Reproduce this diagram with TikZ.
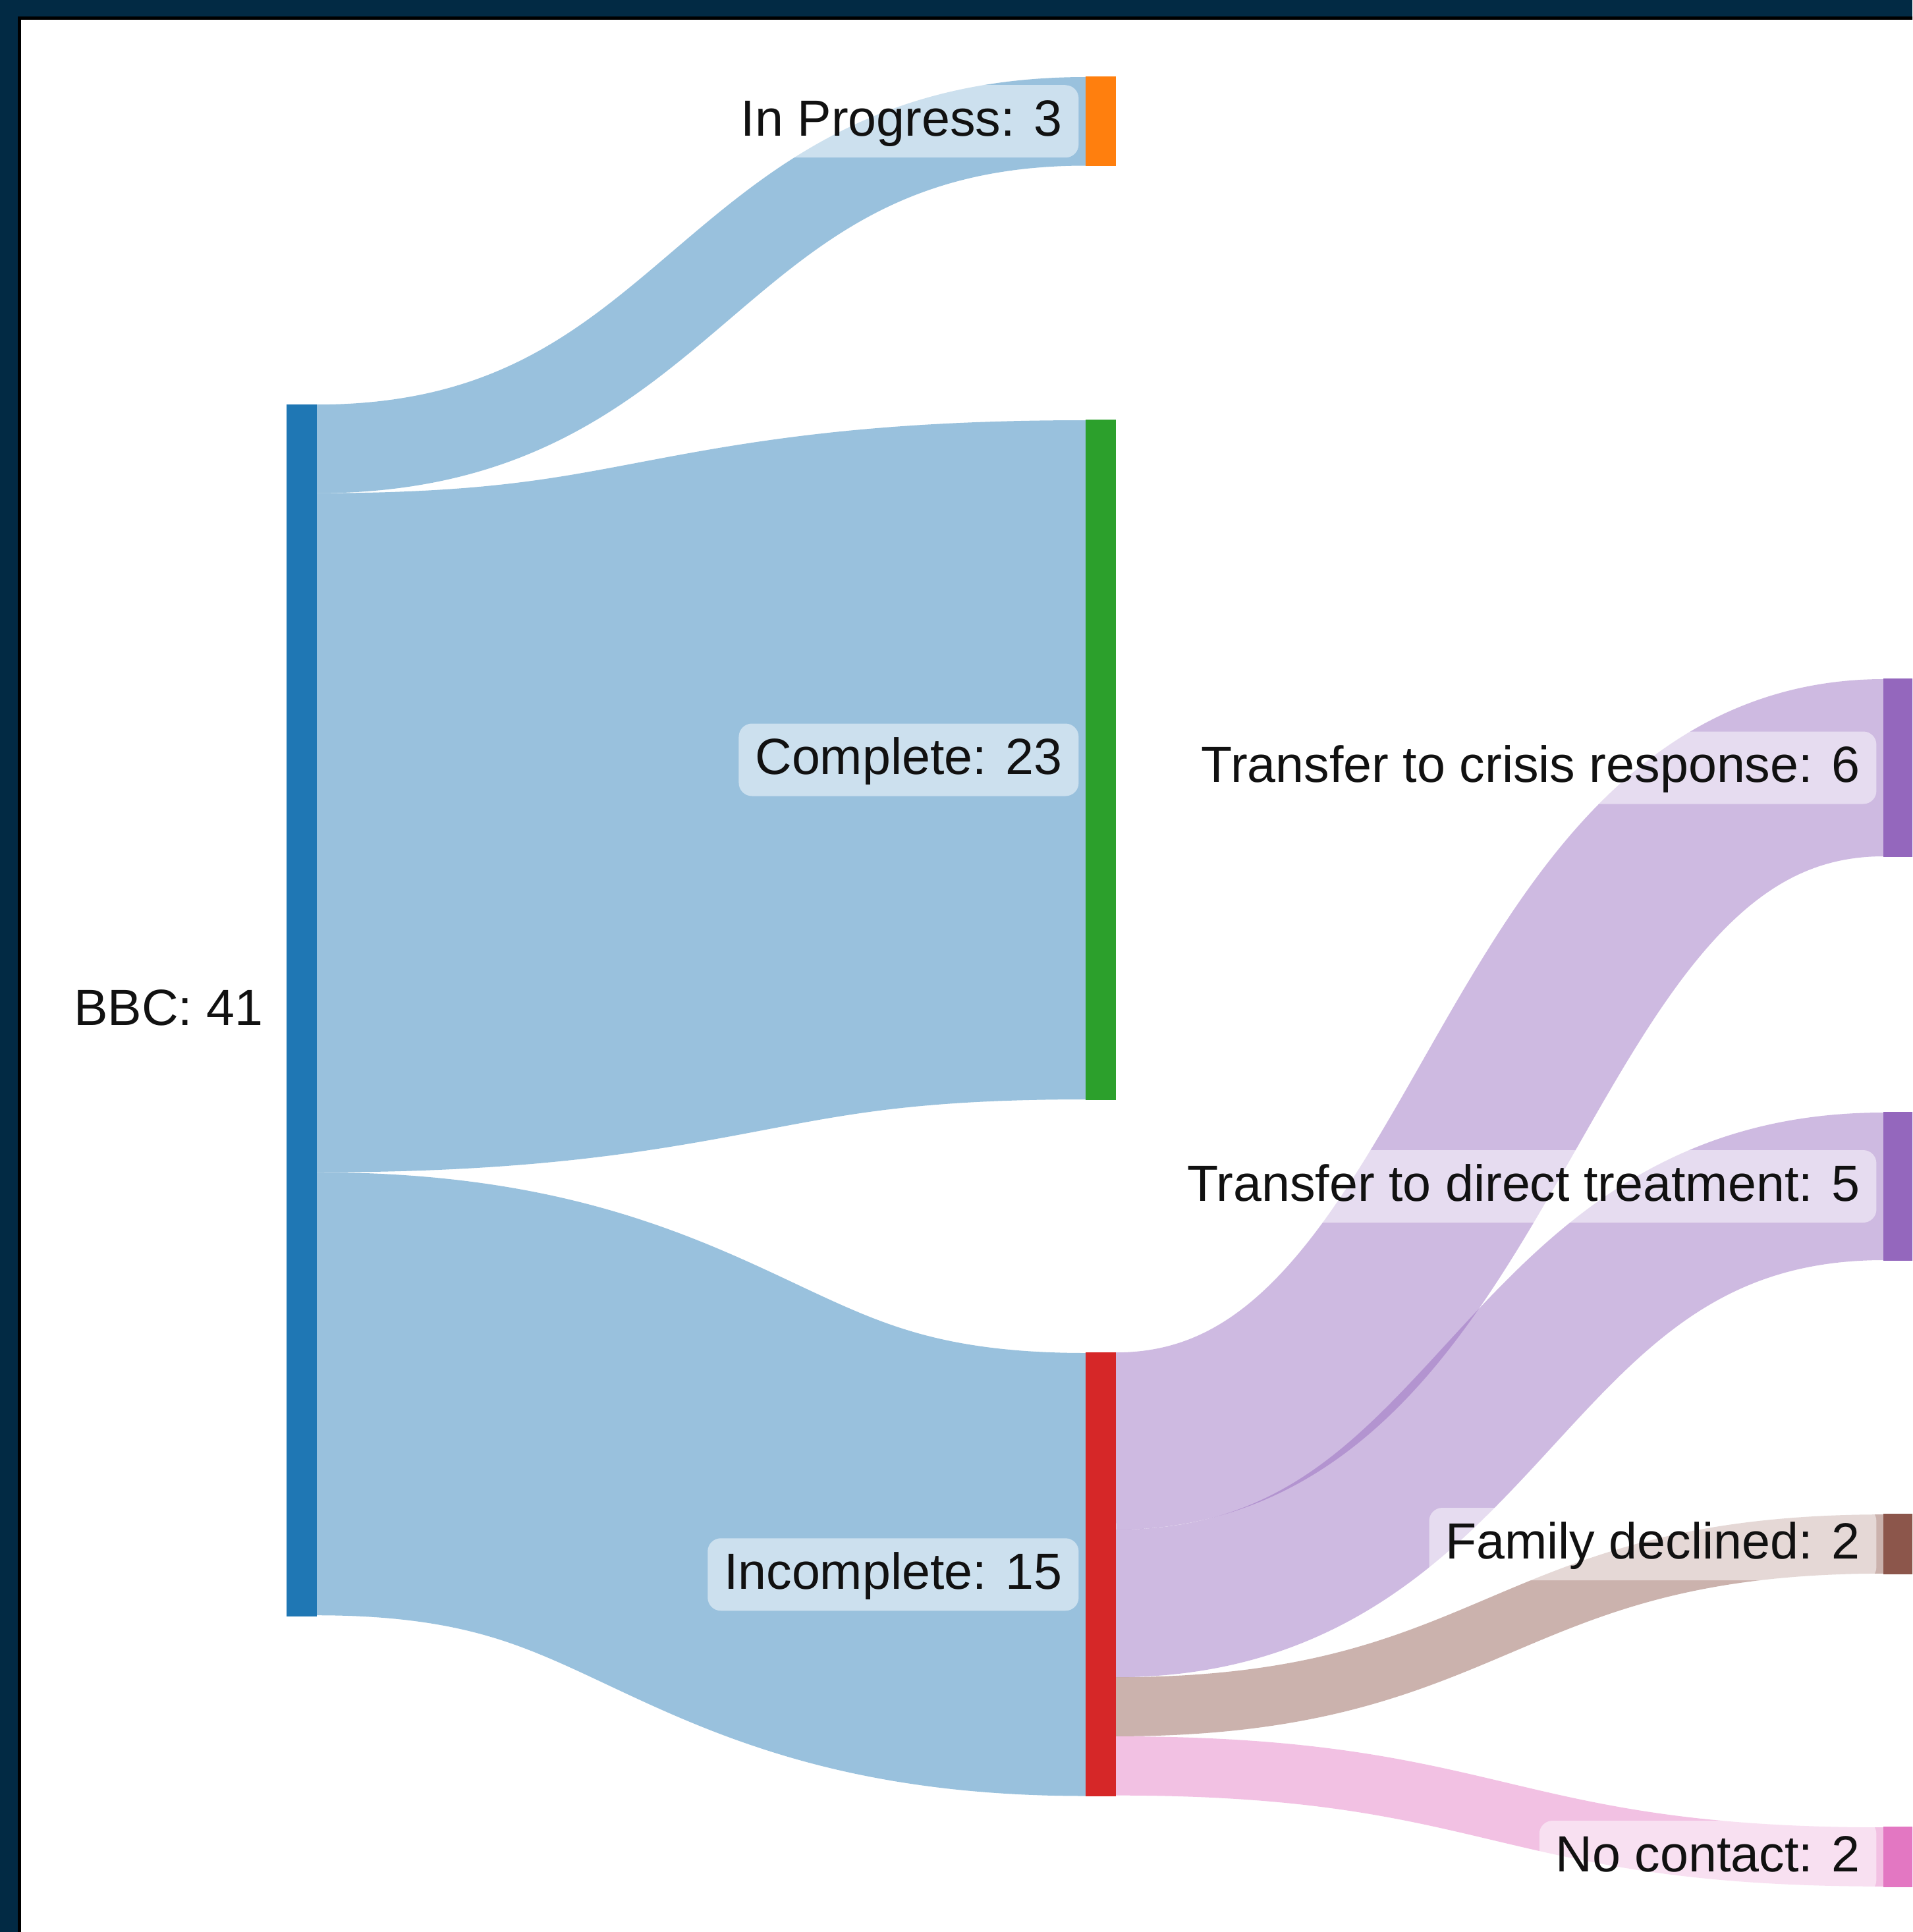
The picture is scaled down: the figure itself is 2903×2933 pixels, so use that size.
\documentclass[tikz,border=0pt]{standalone}
\usepackage{fontspec}
\setmainfont{Liberation Sans}
\usetikzlibrary{calc}
\definecolor{navy}{HTML}{022A44}
\definecolor{cblue}{HTML}{1F77B4}
\definecolor{corange}{HTML}{FF7F0E}
\definecolor{cgreen}{HTML}{2CA02C}
\definecolor{cred}{HTML}{D62728}
\definecolor{cpurple}{HTML}{9467BD}
\definecolor{cbrown}{HTML}{8C564B}
\definecolor{cpink}{HTML}{E377C2}
\definecolor{txt}{HTML}{111111}
\tikzset{
  bar/.style={draw=none, inner sep=0pt, minimum width=11pt},
  link/.style={draw=#1, draw opacity=0.45, line cap=butt},
  lab/.style={anchor=east, fill=white, fill opacity=0.5, text opacity=1, text=txt,
    rounded corners=5pt, inner xsep=6.2pt, inner ysep=0pt,
    text height=11pt, text depth=0pt, minimum height=27.5pt,
    font=\fontsize{19.3pt}{22pt}\selectfont}
}
\begin{document}
\begin{tikzpicture}[x=0.25pt, y=-0.25pt]
\useasboundingbox (0,0) rectangle (2903,2933);
\clip (0,0) rectangle (2903,2933);
% frame
\fill[white] (0,0) rectangle (2903,2933);
\fill[navy] (0,0) rectangle (2903,26);
\fill[navy] (0,0) rectangle (27,2933);
\draw[black, line width=1.1pt] (29.5,2940) -- (29.5,27.5) -- (2910,27.5);

% nodes (bars)
\node[bar, minimum height=1838*0.25pt]  (bbc)    at (458,1534) {};
\node[bar, minimum height=134.5*0.25pt] (prog)   at (1671,184.25) {};
\node[bar, minimum height=1031*0.25pt]  (comp)   at (1671,1153.5) {};
\node[bar, minimum height=672.5*0.25pt] (inc)    at (1671,2390.25) {};
\node[bar, minimum height=269*0.25pt]   (crisis) at (2882,1165.5) {};
\node[bar, minimum height=224*0.25pt]   (direct) at (2882,1801) {};
\node[bar, minimum height=89.7*0.25pt]  (fam)    at (2882,2344) {};
\node[bar, minimum height=89.7*0.25pt]  (noc)    at (2882,2819) {};

% link centre points at the sources
\coordinate (sprog)   at ($(bbc.north east)+(0,67.25)$);
\coordinate (scomp)   at ($(bbc.north east)+(0,650)$);
\coordinate (sinc)    at ($(bbc.north east)+(0,1501.75)$);
\coordinate (scrisis) at ($(inc.north east)+(0,134.5)$);
\coordinate (sdirect) at ($(inc.north east)+(0,381)$);
\coordinate (sfam)    at ($(inc.north east)+(0,537.85)$);
\coordinate (snoc)    at ($(inc.north east)+(0,627.6)$);

% links: bands of constant thickness
\draw[link=cblue, line width=134.5*0.25pt] (sprog) .. controls +(584.5,0) and +(-584.5,0) .. (prog.west);
\draw[link=cblue, line width=1031*0.25pt] (scomp) .. controls +(584.5,0) and +(-584.5,0) .. (comp.west);
\draw[link=cblue, line width=672.5*0.25pt] (sinc) .. controls +(584.5,0) and +(-584.5,0) .. (inc.west);
\draw[link=cpurple, line width=269*0.25pt] (scrisis) .. controls +(583.5,0) and +(-583.5,0) .. (crisis.west);
\draw[link=cpurple, line width=224*0.25pt] (sdirect) .. controls +(583.5,0) and +(-583.5,0) .. (direct.west);
\draw[link=cbrown, line width=89.7*0.25pt] (sfam) .. controls +(583.5,0) and +(-583.5,0) .. (fam.west);
\draw[link=cpink, line width=89.7*0.25pt] (snoc) .. controls +(583.5,0) and +(-583.5,0) .. (noc.west);

% bars on top of links
\fill[cblue]   (bbc.north west) rectangle (bbc.south east);
\fill[corange] (prog.north west) rectangle (prog.south east);
\fill[cgreen]  (comp.north west) rectangle (comp.south east);
\fill[cred]    (inc.north west) rectangle (inc.south east);
\fill[cpurple] (crisis.north west) rectangle (crisis.south east);
\fill[cpurple] (direct.north west) rectangle (direct.south east);
\fill[cbrown]  (fam.north west) rectangle (fam.south east);
\fill[cpink]   (noc.north west) rectangle (noc.south east);

% labels
\node[lab] (lbbc)    at ([xshift=-2.5pt]bbc.west)    {BBC: 41};
\node[lab] (lprog)   at ([xshift=-2.5pt]prog.west)   {In Progress: 3};
\node[lab] (lcomp)   at ([xshift=-2.5pt]comp.west)   {Complete: 23};
\node[lab] (linc)    at ([xshift=-2.5pt]inc.west)    {Incomplete: 15};
\node[lab] (lcrisis) at ([xshift=-2.5pt]crisis.west) {Transfer to crisis response: 6};
\node[lab] (ldirect) at ([xshift=-2.5pt]direct.west) {Transfer to direct treatment: 5};
\node[lab] (lfam)    at ([xshift=-2.5pt]fam.west)    {Family declined: 2};
\node[lab] (lnoc)    at ([xshift=-2.5pt]noc.west)    {No contact: 2};
\end{tikzpicture}
\end{document}
